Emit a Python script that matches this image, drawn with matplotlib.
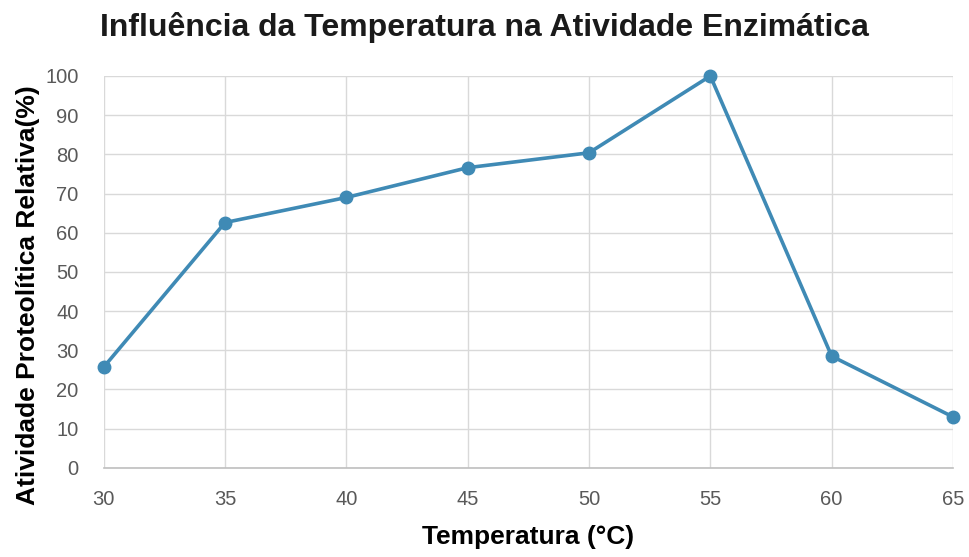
import matplotlib.pyplot as plt

# Atividade relativa da protease em função da temperatura
temperatura = [30, 35, 40, 45, 50, 55, 60, 65]
atividade = [25.7, 62.6, 69.0, 76.6, 80.4, 100.0, 28.5, 13.0]
y_ticks = list(range(0, 101, 10))

plt.rcParams['font.family'] = ['Liberation Sans', 'DejaVu Sans']

fig = plt.figure(figsize=(9.69, 5.57), dpi=100)
ax = fig.add_axes([0.107, 0.160, 0.8765, 0.7036])

ax.plot(temperatura, atividade, color='#3f8ab5', linewidth=2.6,
        marker='o', markersize=9, zorder=3, clip_on=False)

ax.set_xlim(30, 65)
ax.set_ylim(0, 100)
ax.set_xticks(temperatura)
ax.set_yticks(y_ticks)
ax.grid(True, color='#d9d9d9', linewidth=1)
ax.set_axisbelow(True)

for lado in ['top', 'right', 'left']:
    ax.spines[lado].set_visible(False)
ax.spines['bottom'].set_color('#bfbfbf')
ax.spines['bottom'].set_linewidth(1.2)

ax.tick_params(length=0, labelsize=14.5, labelcolor='#595959')
ax.tick_params(axis='x', pad=16)
ax.tick_params(axis='y', pad=18)

ax.set_xlabel('Temperatura (°C)', fontsize=19, fontweight='bold')
ax.set_ylabel('Atividade Proteolítica Relativa(%)', fontsize=19,
              fontweight='bold')
ax.xaxis.set_label_coords(0.5, -0.145)
ax.yaxis.set_label_coords(-0.075, 0.441)

fig.text(0.4995, 0.9515, 'Influência da Temperatura na Atividade Enzimática',
         ha='center', va='center', fontsize=23, fontweight='bold', color='#1a1a1a')

fig.savefig('out.png', dpi=100)
